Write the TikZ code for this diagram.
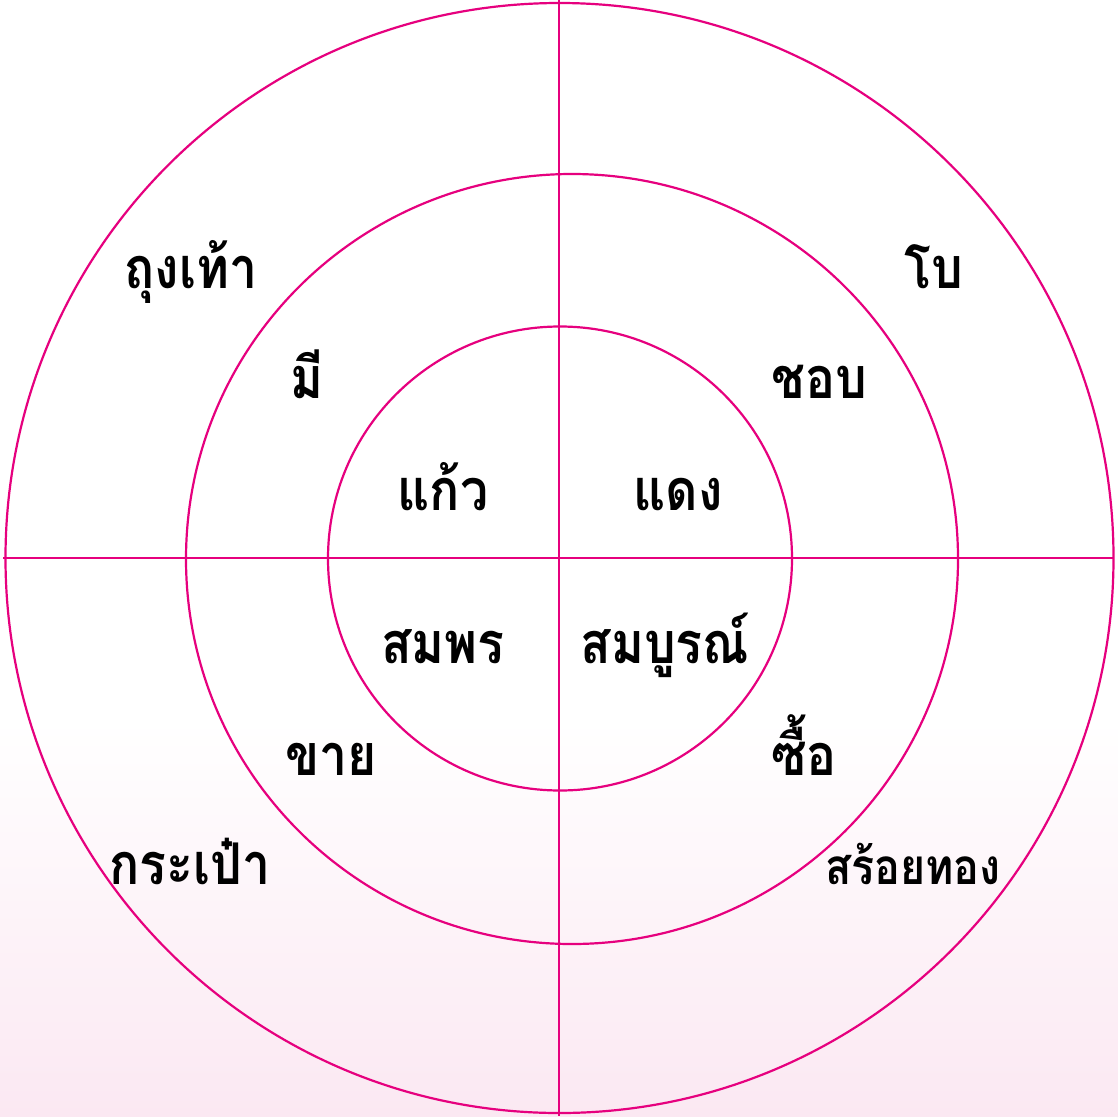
\documentclass[tikz,border=0pt]{standalone}
\usepackage{fontspec}
\usepackage{graphicx}
\newfontfamily\thaifont[Script=Thai]{Loma}
\definecolor{ringpink}{RGB}{230,0,126}
\definecolor{bgpink}{RGB}{251,232,242}
\newcommand{\tall}[1]{\scalebox{1}[1.15]{#1}}
\begin{document}
\begin{tikzpicture}[x=1pt,y=-1pt,
  ring/.style={draw=ringpink,line width=2.2pt},
  word/.style={anchor=base,inner sep=0pt,font=\thaifont\bfseries\fontsize{50}{56}\selectfont,text=black},
  smallword/.style={word,font=\thaifont\bfseries\fontsize{43}{48}\selectfont}]
\useasboundingbox (0,0) rectangle (1118,1116);
\fill[white] (0,0) rectangle (1118,1116);
\shade[top color=white,bottom color=bgpink] (0,720) rectangle (1118,1116);
% circles
\draw[ring] (559.5,558) ellipse [x radius=554,y radius=555];
\draw[ring] (572,559) ellipse [x radius=386,y radius=385];
\draw[ring] (560,558.5) circle [radius=232];
% axes
\draw[ring] (559,0) -- (559,1116);
\draw[ring] (3,558) -- (1114,558);
% words
\node[word] (w1) at (191,288) {\tall{ถุงเท้า}};
\node[word] (w2) at (934,288) {\tall{โบ}};
\node[word] (w3) at (307,398) {\tall{มี}};
\node[word] (w4) at (819,398) {\tall{ชอบ}};
\node[word] (w5) at (443,510) {\tall{แก้ว}};
\node[word] (w6) at (678,510) {\tall{แดง}};
\node[word] (w7) at (443,663) {\tall{สมพร}};
\node[word] (w8) at (665,663) {\tall{สมบูรณ์}};
\node[word] (w9) at (331,775) {\tall{ขาย}};
\node[word] (w10) at (804,775) {\tall{ซื้อ}};
\node[word] (w11) at (190,884) {\tall{กระเป๋า}};
\node[smallword] (w12) at (913,884) {\tall{สร้อยทอง}};
\end{tikzpicture}
\end{document}
